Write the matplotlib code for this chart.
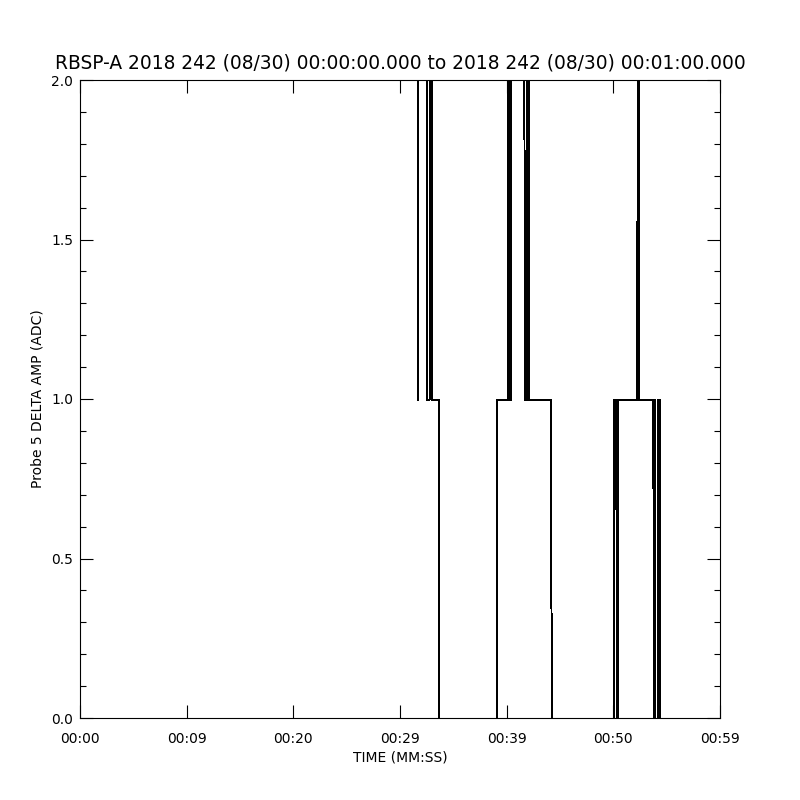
import matplotlib
matplotlib.use("Agg")
import matplotlib.pyplot as plt
import matplotlib.transforms as mtransforms
import numpy as np
from matplotlib.ticker import MultipleLocator

# datos (segundos desde 00:00:00, amplitud en ADC); nan = hueco en los datos
t_sec = [31.66, 31.68, 32.48, 32.50, 32.77, 32.79, 32.98, 33.00, 33.62, 33.64,
         39.11, 39.13, 40.11, 40.13, 40.26, 40.28, 40.40, 40.42, 41.66, 41.68,
         41.94, 41.96, 42.08, 42.10, 44.19, 44.21, 50.04, 50.06, np.nan,
         50.29, 50.31, 50.46, 50.48, 52.26, 52.28, 52.40, 52.42, 53.76, 53.78,
         53.90, 53.92, np.nan,
         54.20, 54.22, np.nan, 54.37, 54.39, 60.0]
amp = [1, 3, 3, 1, 1, 3, 3, 1, 1, 0,
       0, 1, 1, 3, 3, 1, 1, 3, 3, 1,
       1, 3, 3, 1, 1, 0, 0, 1, np.nan,
       1, 0, 0, 1, 1, 3, 3, 1, 1, 0,
       0, 1, np.nan,
       0, 1, np.nan, 1, 0, 0]

xticks = [0, 10, 20, 30, 40, 50, 60]
xlabels = ["00:00", "00:09", "00:20", "00:29", "00:39", "00:50", "00:59"]
yticks = [0.0, 0.5, 1.0, 1.5, 2.0]
ylabels = ["0.0", "0.5", "1.0", "1.5", "2.0"]

plt.rcParams['font.family'] = 'DejaVu Sans'

fig = plt.figure(figsize=(8, 8), dpi=100)
ax = fig.add_axes([0.1, 0.1025, 0.8, 0.7975])

# medio pixel hacia abajo para que el nivel 0 caiga sobre el eje
shift = mtransforms.ScaledTranslation(0, -0.6 / 100, fig.dpi_scale_trans)
ax.plot(t_sec, amp, color="black", lw=0.72, antialiased=False,
        transform=ax.transData + shift)

ax.set_xlim(0, 60)
ax.set_ylim(0, 2)

ax.set_xticks(xticks)
ax.set_xticklabels(xlabels)
ax.set_yticks(yticks)
ax.set_yticklabels(ylabels)
ax.yaxis.set_minor_locator(MultipleLocator(0.1))

ax.tick_params(axis="both", which="both", direction="in",
               top=True, right=True, color="black", width=0.8)
ax.tick_params(axis="both", which="major", length=9.5, labelsize=10)
ax.tick_params(axis="y", which="minor", length=4.5)
ax.tick_params(axis="x", which="major", pad=10)
ax.tick_params(axis="y", which="major", pad=5)

for s in ax.spines.values():
    s.set_linewidth(0.8)
    s.set_zorder(3)

ax.set_title("RBSP-A 2018 242 (08/30) 00:00:00.000 to 2018 242 (08/30) 00:01:00.000",
             fontsize=13.4, pad=8)
ax.set_xlabel("TIME (MM:SS)", fontsize=10, labelpad=3)
ax.set_ylabel("Probe 5 DELTA AMP (ADC)", fontsize=10, labelpad=5)

fig.savefig("out.png", dpi=100, facecolor="white")
